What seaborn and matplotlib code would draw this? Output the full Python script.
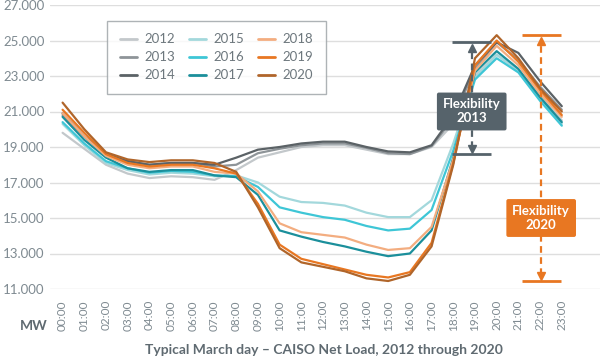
import pandas as pd
import numpy as np
import matplotlib.pyplot as plt
import seaborn as sns

# hourly net load (thousand MW), typical March day
hours = [f"{h:02d}:00" for h in range(24)]
years = ["2012", "2013", "2014", "2015", "2016", "2017", "2018", "2019", "2020"]

load_2012 = [19.8, 18.9, 18.0, 17.5, 17.25, 17.35, 17.3, 17.15, 17.7, 18.4, 18.7, 19.0,
             19.1, 19.1, 18.85, 18.6, 18.6, 19.0, 20.3, 23.0, 24.2, 23.3, 21.9, 20.5]
load_2013 = [20.8, 19.6, 18.5, 18.2, 18.0, 18.1, 18.1, 17.9, 18.0, 18.65, 18.9, 19.1,
             19.2, 19.2, 18.95, 18.65, 18.6, 19.05, 20.6, 23.4, 24.9, 23.9, 22.4, 21.1]
load_2014 = [20.9, 19.6, 18.6, 18.2, 18.0, 18.1, 18.1, 18.0, 18.4, 18.85, 19.0, 19.2,
             19.3, 19.3, 19.0, 18.75, 18.7, 19.1, 20.8, 23.6, 24.9, 24.3, 22.7, 21.3]
load_2015 = [20.3, 19.1, 18.1, 17.7, 17.45, 17.55, 17.5, 17.35, 17.4, 17.0, 16.2, 15.9,
             15.85, 15.7, 15.3, 15.05, 15.05, 16.0, 19.2, 22.9, 24.2, 23.3, 21.8, 20.3]
load_2016 = [20.4, 19.2, 18.2, 17.8, 17.55, 17.65, 17.6, 17.4, 17.35, 16.75, 15.6, 15.3,
             15.05, 14.9, 14.55, 14.3, 14.4, 15.45, 18.8, 22.8, 24.0, 23.2, 21.6, 20.2]
load_2017 = [20.7, 19.4, 18.4, 17.8, 17.6, 17.7, 17.7, 17.4, 17.3, 16.3, 14.3, 13.95,
             13.65, 13.4, 13.1, 12.85, 13.0, 14.3, 18.4, 23.2, 24.4, 23.4, 21.8, 20.4]
load_2018 = [20.9, 19.6, 18.5, 18.0, 17.8, 17.9, 17.9, 17.6, 17.5, 16.5, 14.7, 14.2,
             14.05, 13.9, 13.5, 13.2, 13.3, 14.5, 18.3, 23.3, 24.7, 23.6, 22.0, 20.7]
load_2019 = [21.1, 19.8, 18.6, 18.1, 17.9, 18.0, 18.0, 17.8, 17.5, 15.8, 13.5, 12.7,
             12.4, 12.1, 11.8, 11.65, 11.95, 13.6, 18.1, 23.6, 25.0, 23.8, 22.2, 20.8]
load_2020 = [21.5, 20.0, 18.7, 18.3, 18.15, 18.25, 18.25, 18.1, 17.6, 15.6, 13.3, 12.5,
             12.25, 12.0, 11.6, 11.45, 11.8, 13.4, 18.0, 24.0, 25.3, 24.0, 22.3, 21.0]

series = [load_2012, load_2013, load_2014, load_2015, load_2016,
          load_2017, load_2018, load_2019, load_2020]
colors = ["#c3c8cb", "#8e9498", "#5b6266", "#a3d8dc", "#3ec6d6",
          "#1b8f9b", "#f3ad80", "#e87722", "#b0652a"]

df = pd.DataFrame({
    "hour": np.tile(np.arange(24), len(years)),
    "year": np.repeat(years, 24),
    "load": np.concatenate(series),
})

sns.set_style("white")
plt.rcParams['font.family'] = ['Lato', 'DejaVu Sans']

fig = plt.figure(figsize=(6, 3.61), dpi=100)
ax = fig.add_axes([50 / 600, 1 - 289 / 361, 550 / 600, 284 / 361])

sns.lineplot(data=df, x="hour", y="load", hue="year", palette=colors,
             linewidth=1.6, ax=ax, legend=True)

ax.set_xlim(-0.58, 24.76)
ax.set_ylim(11, 27)
ax.set_yticks(np.arange(11, 28, 2))
ax.set_yticklabels([f"{v}.000" for v in range(11, 28, 2)], color="#7f8a91", fontsize=9.5)
ax.set_xticks(range(24))
ax.set_xticklabels(hours, rotation=90, color="#7f8a91", fontsize=8.5)
ax.grid(axis="y", color="#dedede", linewidth=1)
ax.tick_params(axis="x", length=4, color="#d5d5d5", pad=4)
ax.tick_params(axis="y", length=0, pad=4)
for s in ax.spines.values():
    s.set_visible(False)
ax.set_xlabel("")
ax.set_ylabel("")

# legend
leg = ax.legend(ncol=3, loc="upper left", bbox_to_anchor=(0.1036, 0.944),
                borderaxespad=0, frameon=True, fancybox=False, fontsize=9.5,
                handlelength=1.3, columnspacing=1.0, labelspacing=0.45,
                borderpad=0.95, handletextpad=0.6)
leg.get_frame().set_edgecolor("#9aa0a4")
leg.get_frame().set_linewidth(1)
for t in leg.get_texts():
    t.set_color("#6d777d")
for line in leg.get_lines():
    line.set_linewidth(2)


def flex(x, vals, color, label, box_y):
    # range between midday trough and evening peak
    top, bot = max(vals), min(vals[9:18])
    ax.hlines([top, bot], x - 0.9, x + 0.9, color=color, linewidth=2)
    ax.vlines(x, bot + 0.35, top - 0.35, color=color, linewidth=1.6,
              linestyles=(0, (3, 2)))
    ax.plot([x], [top - 0.3], marker="^", color=color, markersize=6)
    ax.plot([x], [bot + 0.3], marker="v", color=color, markersize=6)
    ax.text(x, box_y, label, ha="center", va="center", color="white",
            fontsize=9.5, fontweight="bold", linespacing=1.2,
            bbox=dict(boxstyle="round,pad=0.45,rounding_size=0.15",
                      fc=color, ec="none"))


flex(18.85, load_2013, "#56636b", "Flexibility\n2013", 21.0)
flex(22.05, load_2020, "#e87722", "Flexibility\n2020", 15.0)

fig.text(20 / 600, 1 - 326 / 361, "MW", ha="left", va="center",
         fontsize=10, fontweight="bold", color="#5f6a71")
fig.text(324 / 600, 1 - 350 / 361,
         "Typical March day \u2013 CAISO Net Load, 2012 through 2020",
         ha="center", va="center", fontsize=10, fontweight="bold",
         color="#5f6a71")

fig.savefig("out.png", dpi=100)
